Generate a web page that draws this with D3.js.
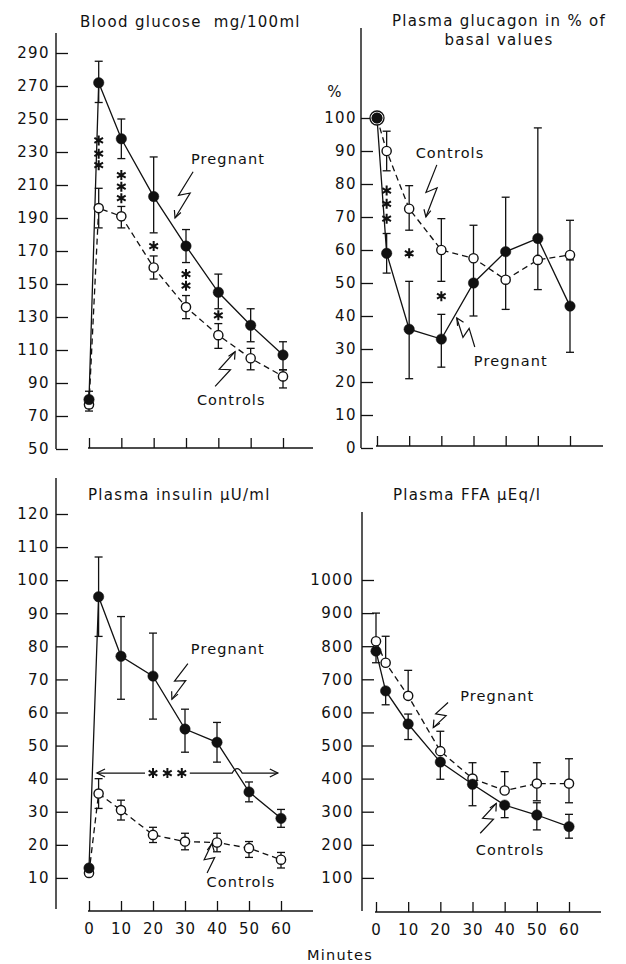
<!DOCTYPE html>
<html>
<head>
<meta charset="utf-8">
<script src="https://cdn.jsdelivr.net/npm/d3@7"></script>
<style>
  body { margin: 0; background: #fff; }
  text { font-family: "DejaVu Sans", sans-serif; fill: #111; }
</style>
</head>
<body>
<svg width="626" height="964"></svg>
<script>
// sampling times (minutes)
const minutes = [0, 3, 10, 20, 30, 40, 50, 60];
const xTicks = [0, 10, 20, 30, 40, 50, 60];

// blood glucose mg/100ml
const gluPreg = [80, 272, 238, 203, 173, 145, 125, 107];
const gluPregUp = [5, 13, 12, 24, 10, 11, 10, 8];
const gluPregDn = [5, 12, 12, 22, 10, 10, 10, 9];
const gluCtrl = [77, 196, 191, 160, 136, 119, 105, 94];
const gluCtrlUp = [4, 12, 6, 7, 7, 7, 6, 4];
const gluCtrlDn = [4, 12, 7, 7, 7, 8, 7, 7];
const gluStars = [[3, 237], [3, 229], [3, 222], [10, 216], [10, 209], [10, 202], [20, 173], [30, 156], [30, 149], [40, 131]];
const gluTicks = [50, 70, 90, 110, 130, 150, 170, 190, 210, 230, 250, 270, 290];

// plasma glucagon, % of basal
const gcgPreg = [100, 59, 36, 33, 50, 59.5, 63.5, 43];
const gcgPregUp = [0, 6, 14.5, 7.5, 7.5, 16.5, 33.5, 14];
const gcgPregDn = [0, 6, 15, 8.5, 10, 0, 0, 14];
const gcgCtrl = [100, 90, 72.5, 60, 57.5, 51, 57, 58.5];
const gcgCtrlUp = [0, 6, 7, 9.5, 10, 8.5, 6.5, 10.5];
const gcgCtrlDn = [0, 6, 6.5, 9.5, 0, 9, 9, 0];
const gcgStars = [[3, 78], [3, 74], [3, 69.5], [10, 59], [20, 46]];
const gcgTicks = [0, 10, 20, 30, 40, 50, 60, 70, 80, 90, 100];

// plasma insulin µU/ml
const insPreg = [13, 95, 77, 71, 55, 51, 36, 28];
const insPregUp = [0, 12, 12, 13, 6, 6, 3, 2.7];
const insPregDn = [0, 12, 13, 13, 7, 6, 3, 2.7];
const insCtrl = [11.5, 35.5, 30.5, 23, 21, 20.7, 19, 15.5];
const insCtrlUp = [0, 4.5, 3, 2.3, 2.5, 2.8, 2, 2.2];
const insCtrlDn = [0, 4.5, 3, 2.3, 2.5, 2.8, 2.8, 2.5];
const insStars = [[20, 41.7], [24.5, 41.7], [29, 41.7]];
const insTicks = [10, 20, 30, 40, 50, 60, 70, 80, 90, 100, 110, 120];

// plasma FFA µEq/l
const ffaPreg = [785, 665, 565, 450, 383, 320, 290, 255];
const ffaPregUp = [0, 0, 30, 0, 0, 0, 37, 37];
const ffaPregDn = [35, 42, 47, 52, 65, 38, 45, 35];
const ffaCtrl = [815, 750, 650, 483, 400, 364, 385, 385];
const ffaCtrlUp = [85, 80, 77, 60, 48, 57, 63, 75];
const ffaCtrlDn = [0, 0, 0, 0, 0, 0, 52, 58];
const ffaTicks = [100, 200, 300, 400, 500, 600, 700, 800, 900, 1000];

const svg = d3.select("svg");
const ink = "#111";

function lightning(g, s, e) {
  const dx = e[0] - s[0], dy = e[1] - s[1];
  const L = Math.hypot(dx, dy), ux = dx / L, uy = dy / L;
  const nx = -uy, ny = ux, w = 5;
  const p1 = [s[0] + dx * 0.55 + nx * w, s[1] + dy * 0.55 + ny * w];
  const p2 = [s[0] + dx * 0.42 - nx * w, s[1] + dy * 0.42 - ny * w];
  g.append("path")
    .attr("d", d3.line()([s, p1, p2, e]))
    .attr("fill", "none").attr("stroke", ink).attr("stroke-width", 1.2);
  // arrow head
  const a = 0.45, h = 8;
  const back = [-ux, -uy];
  const rot = (v, t) => [v[0] * Math.cos(t) - v[1] * Math.sin(t), v[0] * Math.sin(t) + v[1] * Math.cos(t)];
  const l1 = rot(back, a), l2 = rot(back, -a);
  g.append("path")
    .attr("d", `M${e[0] + l1[0] * h},${e[1] + l1[1] * h}L${e[0]},${e[1]}L${e[0] + l2[0] * h},${e[1] + l2[1] * h}`)
    .attr("fill", "none").attr("stroke", ink).attr("stroke-width", 1.2);
}

function drawPanel(p) {
  const g = svg.append("g");
  const x = d3.scaleLinear().domain([0, 60]).range(p.xRange);
  const y = d3.scaleLinear().domain(p.yDomain).range(p.yRange);

  // y axis
  g.append("line")
    .attr("x1", p.axisX).attr("x2", p.axisX)
    .attr("y1", p.axisTop).attr("y2", p.axisBottom)
    .attr("stroke", ink).attr("stroke-width", 1.4);
  const ya = g.append("g")
    .attr("transform", `translate(${p.axisX},0)`)
    .call(d3.axisLeft(y).tickValues(p.yTicks).tickFormat(d3.format("d"))
      .tickSizeInner(-12).tickSizeOuter(0).tickPadding(p.labelPad));
  ya.select(".domain").remove();
  ya.selectAll("line").attr("stroke", ink).attr("stroke-width", 1.3);
  ya.selectAll("text").attr("font-size", 15).attr("letter-spacing", 1.4)
    .attr("font-family", "DejaVu Sans").attr("fill", ink);

  // x axis
  const xa = g.append("g")
    .attr("transform", `translate(0,${p.baseY})`)
    .call(d3.axisBottom(x).tickValues(xTicks).tickSizeInner(-10).tickSizeOuter(0).tickPadding(12)
      .tickFormat(p.xLabels ? d3.format("d") : ""));
  xa.select(".domain").remove();
  xa.selectAll("line").attr("stroke", ink).attr("stroke-width", 1.3);
  xa.selectAll("text").attr("font-size", 15).attr("letter-spacing", 1.0)
    .attr("font-family", "DejaVu Sans").attr("fill", ink);
  g.append("line")
    .attr("x1", x(0) - 1).attr("x2", p.xEnd)
    .attr("y1", p.baseY).attr("y2", p.baseY)
    .attr("stroke", ink).attr("stroke-width", 1.4);

  // titles
  p.titles.forEach(t => {
    g.append("text").attr("x", t.x).attr("y", t.y)
      .attr("text-anchor", t.anchor || "start")
      .attr("font-size", 15).attr("letter-spacing", 1.3)
      .style("white-space", "pre")
      .text(t.text);
  });

  const series = [
    { v: p.ctrl, up: p.ctrlUp, dn: p.ctrlDn, open: true },
    { v: p.preg, up: p.pregUp, dn: p.pregDn, open: false }
  ];

  // error bars
  series.forEach(s => {
    minutes.forEach((t, i) => {
      const cx = x(t), v = s.v[i];
      [[s.up[i], 1], [s.dn[i], -1]].forEach(([e, sign]) => {
        if (e <= 0) return;
        const ye = y(v + sign * e);
        g.append("line").attr("x1", cx).attr("x2", cx).attr("y1", y(v)).attr("y2", ye)
          .attr("stroke", ink).attr("stroke-width", 1.3);
        g.append("line").attr("x1", cx - 4).attr("x2", cx + 4).attr("y1", ye).attr("y2", ye)
          .attr("stroke", ink).attr("stroke-width", 1.3);
      });
    });
  });

  // lines
  const line = d3.line().x((d, i) => x(minutes[i])).y(d => y(d));
  g.append("path").attr("d", line(p.ctrl)).attr("fill", "none")
    .attr("stroke", ink).attr("stroke-width", 1.3).attr("stroke-dasharray", "6,4");
  g.append("path").attr("d", line(p.preg)).attr("fill", "none")
    .attr("stroke", ink).attr("stroke-width", 1.3);

  // points
  if (p.ringAt0) {
    g.append("circle").attr("cx", x(0)).attr("cy", y(p.ctrl[0])).attr("r", 7)
      .attr("fill", "#fff").attr("stroke", ink).attr("stroke-width", 1.3);
  }
  series.forEach(s => {
    g.selectAll(null).data(s.v).join("circle")
      .attr("cx", (d, i) => x(minutes[i]))
      .attr("cy", d => y(d))
      .attr("r", s.open ? 4.6 : 5.2)
      .attr("fill", s.open ? "#fff" : ink)
      .attr("stroke", ink).attr("stroke-width", s.open ? 1.4 : 0.5);
  });

  // significance stars
  g.selectAll(null).data(p.stars || []).join("path")
    .attr("d", d3.symbol(d3.symbolAsterisk, 70))
    .attr("transform", d => `translate(${x(d[0])},${y(d[1])})`)
    .attr("fill", "none").attr("stroke", ink).attr("stroke-width", 2);

  // labels with lightning arrows
  p.labels.forEach(l => {
    g.append("text").attr("x", x(l.at[0])).attr("y", y(l.at[1]) + 5)
      .attr("text-anchor", "middle").attr("font-size", 14.5).attr("letter-spacing", 1.1)
      .text(l.text);
    lightning(g, [x(l.from[0]), y(l.from[1])], [x(l.to[0]), y(l.to[1])]);
  });

  if (p.extra) p.extra(g, x, y);
  return { x, y };
}

drawPanel({
  xRange: [89, 283], yDomain: [50, 290], yRange: [449, 53],
  axisX: 56, axisTop: 33, axisBottom: 449, baseY: 448, xEnd: 313, labelPad: 6,
  yTicks: gluTicks, xLabels: false,
  titles: [{ text: "Blood glucose  mg/100ml", x: 80, y: 27 }],
  preg: gluPreg, pregUp: gluPregUp, pregDn: gluPregDn,
  ctrl: gluCtrl, ctrlUp: gluCtrlUp, ctrlDn: gluCtrlDn,
  stars: gluStars,
  labels: [
    { text: "Pregnant", at: [43, 226], from: [32.2, 218], to: [26.6, 190] },
    { text: "Controls", at: [44, 80], from: [39, 88], to: [45.2, 109] }
  ]
});

drawPanel({
  xRange: [377, 570], yDomain: [0, 100], yRange: [448, 118],
  axisX: 361, axisTop: 28, axisBottom: 448, baseY: 446, xEnd: 603, labelPad: 4,
  yTicks: gcgTicks, xLabels: false, ringAt0: true,
  titles: [
    { text: "Plasma glucagon in % of", x: 499, y: 26, anchor: "middle" },
    { text: "basal values", x: 499, y: 45, anchor: "middle" },
    { text: "%", x: 335, y: 97, anchor: "middle" }
  ],
  preg: gcgPreg, pregUp: gcgPregUp, pregDn: gcgPregDn,
  ctrl: gcgCtrl, ctrlUp: gcgCtrlUp, ctrlDn: gcgCtrlDn,
  stars: gcgStars,
  labels: [
    { text: "Controls", at: [22.7, 89.4], from: [18.6, 85.8], to: [15.2, 70] },
    { text: "Pregnant", at: [41.6, 26.4], from: [30.4, 30.6], to: [24.8, 39.4] }
  ]
});

drawPanel({
  xRange: [89, 281], yDomain: [0, 120], yRange: [911, 514],
  axisX: 56, axisTop: 478, axisBottom: 909, baseY: 911, xEnd: 313, labelPad: 6,
  yTicks: insTicks, xLabels: true,
  titles: [{ text: "Plasma insulin μU/ml", x: 88, y: 500 }],
  preg: insPreg, pregUp: insPregUp, pregDn: insPregDn,
  ctrl: insCtrl, ctrlUp: insCtrlUp, ctrlDn: insCtrlDn,
  stars: insStars,
  labels: [
    { text: "Pregnant", at: [43.4, 79.3], from: [30.9, 74.8], to: [25.9, 64] },
    { text: "Controls", at: [47.5, 8.7], from: [36.9, 11.5], to: [38.4, 20.4] }
  ],
  extra: (g, x, y) => {
    // double-headed significance arrow with a hop over the crossing line
    const yy = y(41.7), x0 = x(2.5), x1 = x(59), gA = x(17.5), gB = x(31.5), hop = x(46.3);
    g.append("path")
      .attr("d", `M${x0},${yy}L${gA},${yy}M${gB},${yy}L${hop - 5},${yy}Q${hop},${yy - 9} ${hop + 5},${yy}L${x1},${yy}`)
      .attr("fill", "none").attr("stroke", ink).attr("stroke-width", 1.3);
    g.append("path")
      .attr("d", `M${x0 + 8},${yy - 4}L${x0},${yy}L${x0 + 8},${yy + 4}M${x1 - 8},${yy - 4}L${x1},${yy}L${x1 - 8},${yy + 4}`)
      .attr("fill", "none").attr("stroke", ink).attr("stroke-width", 1.3);
  }
});

drawPanel({
  xRange: [376, 569], yDomain: [0, 1000], yRange: [911, 580],
  axisX: 362, axisTop: 512, axisBottom: 911, baseY: 912, xEnd: 601, labelPad: 8,
  yTicks: ffaTicks, xLabels: true,
  titles: [{ text: "Plasma FFA μEq/l", x: 393, y: 500 }],
  preg: ffaPreg, pregUp: ffaPregUp, pregDn: ffaPregDn,
  ctrl: ffaCtrl, ctrlUp: ffaCtrlUp, ctrlDn: ffaCtrlDn,
  labels: [
    { text: "Pregnant", at: [37.7, 650], from: [22.4, 630], to: [17.8, 554] },
    { text: "Controls", at: [41.7, 184], from: [32.4, 235], to: [37.4, 325] }
  ]
});

svg.append("text").attr("x", 340).attr("y", 960)
  .attr("text-anchor", "middle").attr("font-size", 14.5).attr("letter-spacing", 1.3)
  .text("Minutes");
</script>
</body>
</html>
